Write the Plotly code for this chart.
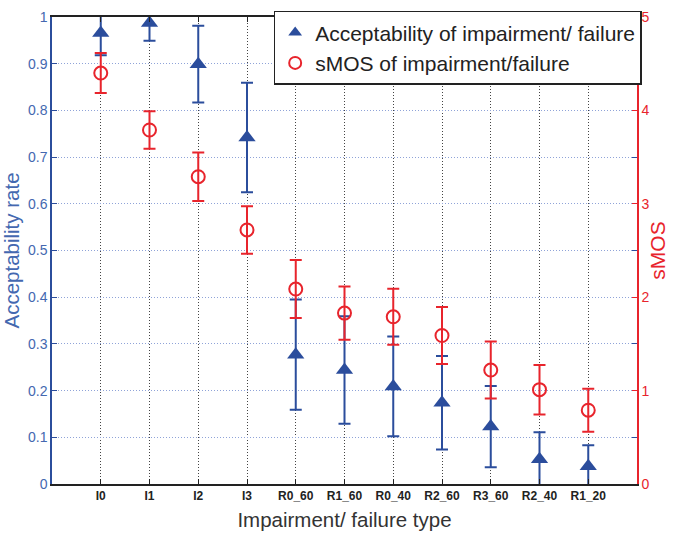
import plotly.graph_objects as go

categories = ["I0", "I1", "I2", "I3", "R0_60", "R1_60", "R0_40", "R2_60", "R3_60", "R2_40", "R1_20"]
accept = [0.966, 0.987, 0.899, 0.742, 0.277, 0.244, 0.209, 0.174, 0.123, 0.053, 0.038]
accept_err = [0.048, 0.038, 0.082, 0.117, 0.118, 0.115, 0.107, 0.100, 0.087, 0.058, 0.045]
smos = [4.40, 3.79, 3.29, 2.72, 2.087, 1.83, 1.79, 1.59, 1.22, 1.01, 0.79]
smos_err = [0.215, 0.20, 0.26, 0.255, 0.31, 0.285, 0.30, 0.305, 0.305, 0.265, 0.23]

xpos = list(range(1, len(categories) + 1))

BLUE = "#2b4d9c"
BLUE_TXT = "#4468b0"
RED = "#e8242c"
FONT = "Liberation Sans, Arial, sans-serif"

fig = go.Figure()

# error bars (clipped to plot area)
fig.add_trace(go.Scatter(
    x=xpos, y=accept, mode="markers", marker=dict(size=0, opacity=0),
    error_y=dict(type="data", array=accept_err, visible=True, color=BLUE, thickness=2, width=6),
    showlegend=False, hoverinfo="skip", cliponaxis=True, yaxis="y"))
fig.add_trace(go.Scatter(
    x=xpos, y=smos, mode="markers", marker=dict(size=0, opacity=0),
    error_y=dict(type="data", array=smos_err, visible=True, color=RED, thickness=2, width=6),
    showlegend=False, hoverinfo="skip", cliponaxis=True, yaxis="y2"))

# markers
fig.add_trace(go.Scatter(
    x=xpos, y=accept, mode="markers", name="Acceptability of impairment/ failure",
    marker=dict(symbol="triangle-up", size=15, color=BLUE, line=dict(width=0)),
    cliponaxis=False, yaxis="y"))
fig.add_trace(go.Scatter(
    x=xpos, y=smos, mode="markers", name="sMOS of impairment/failure",
    marker=dict(symbol="circle-open", size=13, color=RED, line=dict(width=2, color=RED)),
    cliponaxis=False, yaxis="y2"))

fig.update_layout(
    width=675, height=537,
    margin=dict(l=52, r=29, t=9, b=52),
    paper_bgcolor="white", plot_bgcolor="white",
    font=dict(family=FONT),
    showlegend=True,
    legend=dict(
        x=1.008, y=1.013, xanchor="right", yanchor="top",
        bgcolor="white", bordercolor="#222", borderwidth=1.5,
        font=dict(size=21, color="#222", family=FONT),
        itemsizing="constant", tracegroupgap=0, itemwidth=30,
    ),
    xaxis=dict(
        range=[0, 12], tickvals=xpos, ticktext=categories,
        showgrid=True, gridcolor="#444", griddash="1px,2px", gridwidth=1,
        showline=True, linecolor="#222", linewidth=1.5, mirror="ticks",
        ticks="inside", ticklen=5, tickcolor="#222",
        tickfont=dict(size=12, color="#222", family=FONT, weight="bold"),
        title=dict(text="Impairment/ failure type", font=dict(size=20.5, color="#333"), standoff=10),
        zeroline=False,
    ),
    yaxis=dict(
        range=[0, 1], dtick=0.1, tickformat="~g",
        showgrid=True, gridcolor="#8fa3d8", griddash="1px,2px", gridwidth=1,
        showline=True, linecolor=BLUE, linewidth=1.5, mirror="ticks",
        ticks="inside", ticklen=5, tickcolor=BLUE,
        tickfont=dict(size=14, color=BLUE_TXT),
        title=dict(text="Acceptability rate", font=dict(size=20.5, color=BLUE_TXT), standoff=3),
        zeroline=False,
    ),
    yaxis2=dict(
        range=[0, 5], dtick=1, overlaying="y", side="right",
        showgrid=False, showline=True, linecolor=RED, linewidth=1.5,
        ticks="inside", ticklen=5, tickcolor=RED,
        tickfont=dict(size=14, color=RED),
        title=dict(text="sMOS", font=dict(size=21, color=RED), standoff=2),
        zeroline=False,
    ),
)

fig.write_html("out.html")
